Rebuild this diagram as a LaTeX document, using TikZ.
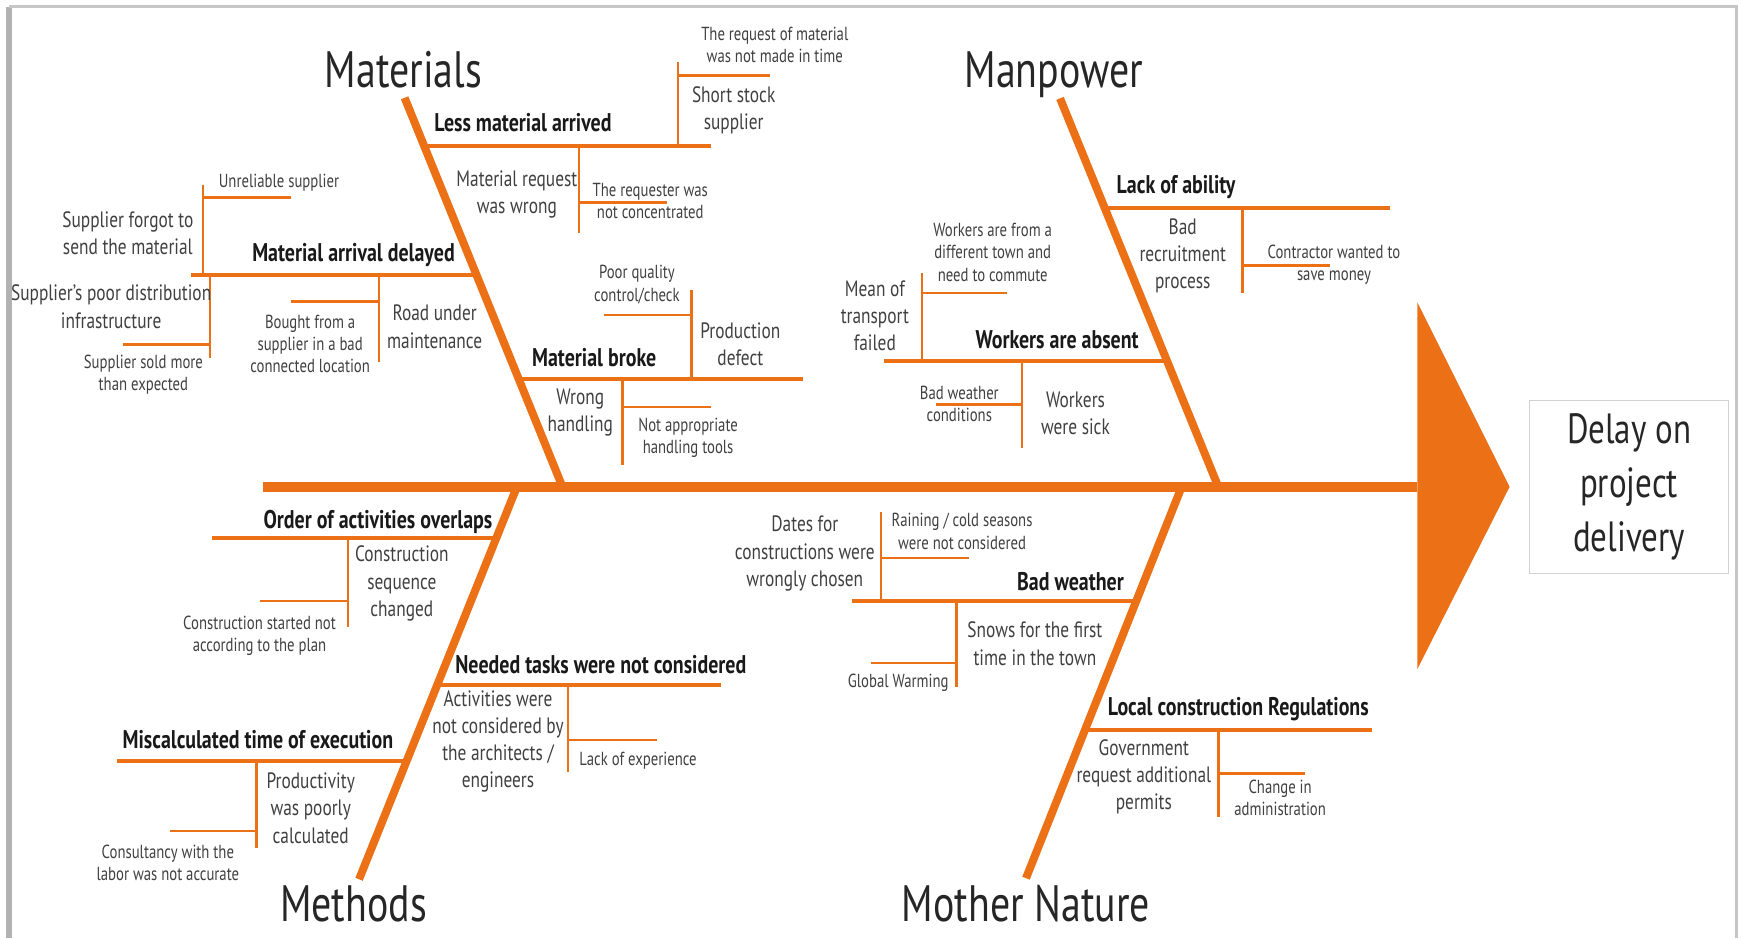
\documentclass[tikz,border=0pt]{standalone}
\usepackage{fontspec}
\setmainfont{PT Sans}[FakeStretch=0.78]
\definecolor{fishorange}{RGB}{236,112,22}
\definecolor{textgray}{RGB}{64,64,64}

\begin{document}
\begin{tikzpicture}[
    x=0.5pt, y=-0.5pt,
    spine/.style={draw=fishorange, line width=4.6pt},
    bone/.style={draw=fishorange, line width=3.6pt},
    branch/.style={draw=fishorange, line width=1.8pt},
    twig/.style={draw=fishorange, line width=1.2pt},
    category/.style={font=\fontsize{23}{26}\selectfont, text=black!85, anchor=base, inner sep=0pt},
    cause/.style={font=\bfseries\fontsize{11.5}{13}\selectfont, text=black!90, inner sep=0pt},
    reason/.style={font=\fontsize{10}{12.25}\selectfont, text=textgray, align=center, inner sep=0pt},
    detail/.style={font=\fontsize{8.5}{10}\selectfont, text=textgray, align=center, inner sep=0pt}
]
    \useasboundingbox (0,0) rectangle (1568,844);

    % Frame
    \draw[gray!60, line width=2.4pt] (8,844) -- (8,6);
    \draw[gray!45, line width=1.2pt] (8,6) -- (1562,6) -- (1562,844);

    % Spine and head
    \coordinate (tail) at (237,438);
    \coordinate (neck) at (1275,438);
    \draw[spine] (tail) -- (neck);
    \fill[fishorange] (1275,272) -- (1358,438) -- (1275,602) -- cycle;
    \node[draw=gray!35, line width=0.6pt, minimum width=89.5pt, minimum height=78pt,
          align=center, font=\fontsize{19}{24.5}\selectfont, text=black!85]
        (effect) at (1465.5,438) {Delay on\\project\\delivery};

    % Bones
    \node[category] (materials) at (363,79) {Materials};
    \node[category] (manpower) at (948,79) {Manpower};
    \node[category] (methods) at (318,829) {Methods};
    \node[category] (nature) at (923,829) {Mother Nature};

    \coordinate (mat-top) at (364,88);
    \coordinate (mat-end) at (506,438);
    \coordinate (man-top) at (953.6,88.5);
    \coordinate (man-end) at (1096,438);
    \coordinate (met-end) at (465,438);
    \coordinate (met-bot) at (323,791);
    \coordinate (nat-end) at (1063,438);
    \coordinate (nat-bot) at (923,790);
    \draw[bone] (mat-top) -- (mat-end);
    \draw[bone] (man-top) -- (man-end);
    \draw[bone] (met-end) -- (met-bot);
    \draw[bone] (nat-end) -- (nat-bot);

    % Materials: less material arrived
    \coordinate (less-a) at (381.4,131);
    \coordinate (less-b) at (640,131);
    \draw[branch] (less-a) -- (less-b);
    \node[cause] (less) at (470.5,110) {Less material arrived};
    \draw[twig] (610,55.5) -- (610,131);
    \draw[twig] (610,68) -- (693,68);
    \draw[twig] (521,131) -- (521,210);
    \draw[twig] (521,182) -- (600,182);
    \node[detail] (less-t1) at (697,40.5) {The request of material\\was not made in time};
    \node[reason] (less-t2) at (660,99) {Short stock\\supplier};
    \node[reason] (less-t3) at (465,175) {Material request\\was wrong};
    \node[detail] (less-t4) at (585,180.5) {The requester was\\not concentrated};

    % Materials: material arrival delayed
    \coordinate (late-a) at (428.5,247);
    \coordinate (late-b) at (172,247);
    \draw[branch] (late-a) -- (late-b);
    \node[cause] (late) at (318,229.5) {Material arrival delayed};
    \draw[twig] (182.5,166) -- (182.5,247);
    \draw[twig] (182.5,177.6) -- (262,177.6);
    \draw[twig] (189,247) -- (189,322);
    \draw[twig] (111,310) -- (189,310);
    \draw[twig] (341,247) -- (341,325.6);
    \draw[twig] (262,271.5) -- (341,271.5);
    \node[detail] (late-t1) at (251,164) {Unreliable supplier};
    \node[reason] (late-t2) at (115,210) {Supplier forgot to\\send the material};
    \node[reason] (late-t3) at (100,276) {Supplier’s poor distribution\\infrastructure};
    \node[detail] (late-t4) at (129,337) {Supplier sold more\\than expected};
    \node[reason] (late-t5) at (391,294) {Road under\\maintenance};
    \node[detail] (late-t6) at (279,309.5) {Bought from a\\supplier in a bad\\connected location};

    % Materials: material broke
    \coordinate (broke-a) at (466.6,341);
    \coordinate (broke-b) at (722,341);
    \draw[branch] (broke-a) -- (broke-b);
    \node[cause] (broke) at (534.5,322) {Material broke};
    \draw[twig] (622,261) -- (622,341);
    \draw[twig] (543,283.4) -- (622,283.4);
    \draw[twig] (560,341) -- (560,418);
    \draw[twig] (560,366) -- (640,366);
    \node[detail] (broke-t1) at (573,256) {Poor quality\\control/check};
    \node[reason] (broke-t2) at (666,309.5) {Production\\defect};
    \node[reason] (broke-t3) at (522,371) {Wrong\\handling};
    \node[detail] (broke-t4) at (619,394) {Not appropriate\\handling tools};

    % Manpower: lack of ability
    \coordinate (skill-a) at (993.9,187.5);
    \coordinate (skill-b) at (1250,187.5);
    \draw[branch] (skill-a) -- (skill-b);
    \node[cause] (skill) at (1058,168) {Lack of ability};
    \draw[twig] (1118,187.5) -- (1118,264);
    \draw[twig] (1118,239) -- (1196.5,239);
    \node[reason] (skill-t1) at (1064,230) {Bad\\recruitment\\process};
    \node[detail] (skill-t2) at (1200,238) {Contractor wanted to\\save money};

    % Manpower: workers are absent
    \coordinate (absent-a) at (1050,325);
    \coordinate (absent-b) at (795,325);
    \draw[branch] (absent-a) -- (absent-b);
    \node[cause] (absent) at (951,306) {Workers are absent};
    \draw[twig] (829.5,246) -- (829.5,325);
    \draw[twig] (829.5,263.5) -- (906,263.5);
    \draw[twig] (919.5,325) -- (919.5,403);
    \draw[twig] (842,364) -- (919.5,364);
    \node[detail] (absent-t1) at (893,227) {Workers are from a\\different town and\\need to commute};
    \node[reason] (absent-t2) at (787,284) {Mean of\\transport\\failed};
    \node[detail] (absent-t3) at (863,363.5) {Bad weather\\conditions};
    \node[reason] (absent-t4) at (967.5,372) {Workers\\were sick};

    % Methods: order of activities overlaps
    \coordinate (order-a) at (446.5,484);
    \coordinate (order-b) at (191,484);
    \draw[branch] (order-a) -- (order-b);
    \node[cause] (order) at (340,469.5) {Order of activities overlaps};
    \draw[twig] (313,484) -- (313,564);
    \draw[twig] (233.5,540.6) -- (313,540.6);
    \node[reason] (order-t1) at (361.5,525) {Construction\\sequence\\changed};
    \node[detail] (order-t2) at (233.5,572) {Construction started not\\according to the plan};

    % Methods: miscalculated time of execution
    \coordinate (time-a) at (366,684.6);
    \coordinate (time-b) at (105,684.6);
    \draw[branch] (time-a) -- (time-b);
    \node[cause] (time) at (232,665) {Miscalculated time of execution};
    \draw[twig] (231,684.6) -- (231,763);
    \draw[twig] (153,747.6) -- (231,747.6);
    \node[reason] (time-t1) at (279.5,727) {Productivity\\was poorly\\calculated};
    \node[detail] (time-t2) at (151,776) {Consultancy with the\\labor was not accurate};

    % Methods: needed tasks were not considered
    \coordinate (tasks-a) at (393.5,616);
    \coordinate (tasks-b) at (649,616);
    \draw[branch] (tasks-a) -- (tasks-b);
    \node[cause] (tasks) at (540.5,598) {Needed tasks were not considered};
    \draw[twig] (511,616) -- (511,694.5);
    \draw[twig] (511,665.7) -- (591,665.7);
    \node[reason] (tasks-t1) at (448,667) {Activities were\\not considered by\\the architects /\\engineers};
    \node[detail] (tasks-t2) at (574,684.6) {Lack of experience};

    % Mother Nature: bad weather
    \coordinate (weather-a) at (1022.2,540.7);
    \coordinate (weather-b) at (766.5,540.7);
    \draw[branch] (weather-a) -- (weather-b);
    \node[cause] (weather) at (963,523.6) {Bad weather};
    \draw[twig] (792.5,460.6) -- (792.5,540.7);
    \draw[twig] (792.5,502) -- (872,502);
    \draw[twig] (860.5,540.7) -- (860.5,618);
    \draw[twig] (783.5,596.5) -- (860.5,596.5);
    \node[detail] (weather-t1) at (865.5,478) {Raining / cold seasons\\were not considered};
    \node[reason] (weather-t2) at (724,498) {Dates for\\constructions were\\wrongly chosen};
    \node[reason] (weather-t3) at (931,579) {Snows for the first\\time in the town};
    \node[detail] (weather-t4) at (808,614.6) {Global Warming};

    % Mother Nature: local construction regulations
    \coordinate (rules-a) at (976.2,656.7);
    \coordinate (rules-b) at (1234,656.7);
    \draw[branch] (rules-a) -- (rules-b);
    \node[cause] (rules) at (1114,638) {Local construction Regulations};
    \draw[twig] (1096,656.7) -- (1096,735);
    \draw[twig] (1096,695.6) -- (1174,695.6);
    \node[reason] (rules-t1) at (1029,699) {Government\\request additional\\permits};
    \node[detail] (rules-t2) at (1151.6,717.5) {Change in\\administration};
\end{tikzpicture}
\end{document}
